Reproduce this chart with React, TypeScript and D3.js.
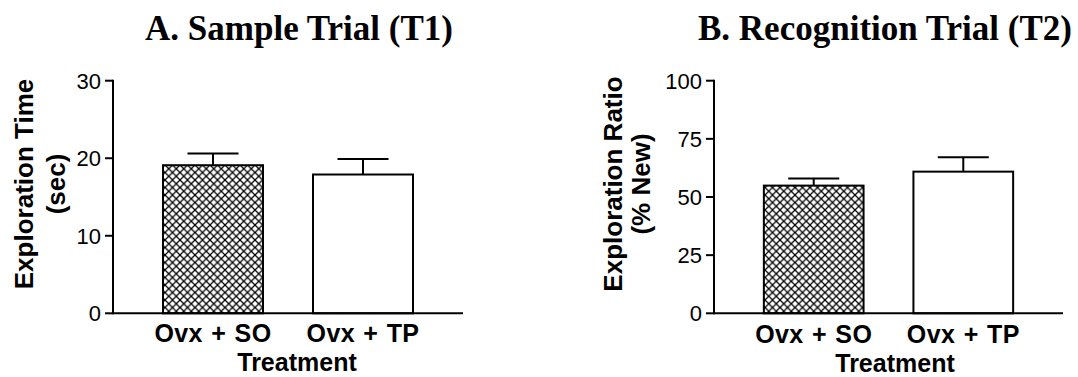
import * as d3 from "d3";

// categories and values
const groups = ["Ovx + SO", "Ovx + TP"];
const hatched = [true, false];

const sampleMeans = [19.1, 17.9];
const sampleSem = [1.5, 2.0];
const sampleTicks = [0, 10, 20, 30];

const recogMeans = [54.9, 60.9];
const recogSem = [3.0, 6.2];
const recogTicks = [0, 25, 50, 75, 100];

const W = 1078;
const H = 377;
const sans = "'Liberation Sans', Arial, sans-serif";
const serif = "'Liberation Serif', 'Times New Roman', serif";

function Panel({ title, titleX, x0, x1, yMax, ticks, means, sem, yLabel, labelX, xTitleX, xTitleY, catY }) {
  const y = d3.scaleLinear().domain([0, yMax]).range([313.3, 80.7]);
  const x = d3.scaleBand().domain(groups).range([x0, x1]).paddingInner(1 / 3).paddingOuter(1 / 3);
  const midY = 184;

  return (
    <g>
      <text x={titleX} y={40} textAnchor="middle" fontFamily={serif} fontWeight="bold" fontSize={35}>
        {title}
      </text>

      {groups.map((g, i) => {
        const bx = x(g);
        const cx = bx + x.bandwidth() / 2;
        const top = y(means[i]);
        const cap = y(means[i] + sem[i]);
        return (
          <g key={g}>
            <line x1={cx} x2={cx} y1={top} y2={cap} stroke="#000" strokeWidth={2} />
            <line x1={cx - 25.5} x2={cx + 25.5} y1={cap} y2={cap} stroke="#000" strokeWidth={2} />
            <rect x={bx} y={top} width={x.bandwidth()} height={y(0) - top}
              fill={hatched[i] ? "url(#xhatch)" : "#fff"} stroke="#000" strokeWidth={2} />
            <text x={cx} y={catY} textAnchor="middle" fontFamily={sans} fontWeight="bold"
              fontSize={25} letterSpacing={0.4} wordSpacing={1}>
              {g}
            </text>
          </g>
        );
      })}

      {/* axes */}
      <line x1={x0} x2={x1} y1={y(0)} y2={y(0)} stroke="#000" strokeWidth={2} />
      <line x1={x0} x2={x0} y1={y(0) + 1} y2={y(yMax) - 1} stroke="#000" strokeWidth={2} />
      {ticks.map(t => (
        <g key={t}>
          <line x1={x0 - 8} x2={x0} y1={y(t)} y2={y(t)} stroke="#000" strokeWidth={2} />
          <text x={x0 - 12} y={y(t) + 7.8} textAnchor="end" fontFamily={sans} fontSize={22}>
            {t}
          </text>
        </g>
      ))}

      <text x={xTitleX} y={xTitleY} textAnchor="middle" fontFamily={sans} fontWeight="bold"
        fontSize={25}>
        Treatment
      </text>

      {yLabel.map((s, i) => (
        <text key={s} transform={`translate(${labelX[i]},${midY}) rotate(-90)`} textAnchor="middle"
          fontFamily={sans} fontWeight="bold" fontSize={26}>
          {s}
        </text>
      ))}
    </g>
  );
}

export default function App() {
  return (
    <svg width={W} height={H} style={{ position: "absolute", left: 0, top: 0, background: "#fff" }}>
      <defs>
        <pattern id="xhatch" patternUnits="userSpaceOnUse" width={7.5} height={7.5}>
          <rect width={7.5} height={7.5} fill="#fff" />
          <path d="M-1,-1L8.5,8.5M8.5,-1L-1,8.5" stroke="#000" strokeWidth={1.3} />
        </pattern>
      </defs>
      <rect width={W} height={H} fill="#fff" />
      <Panel title="A. Sample Trial (T1)" titleX={299} x0={113} x1={463} yMax={30}
        ticks={sampleTicks} means={sampleMeans} sem={sampleSem}
        yLabel={["Exploration Time", "(sec)"]} labelX={[33, 65]}
        xTitleX={297} xTitleY={371} catY={342} />
      <Panel title="B. Recognition Trial (T2)" titleX={885} x0={714} x1={1063} yMax={100}
        ticks={recogTicks} means={recogMeans} sem={recogSem}
        yLabel={["Exploration Ratio", "(% New)"]} labelX={[622, 650]}
        xTitleX={895} xTitleY={372} catY={343} />
    </svg>
  );
}
